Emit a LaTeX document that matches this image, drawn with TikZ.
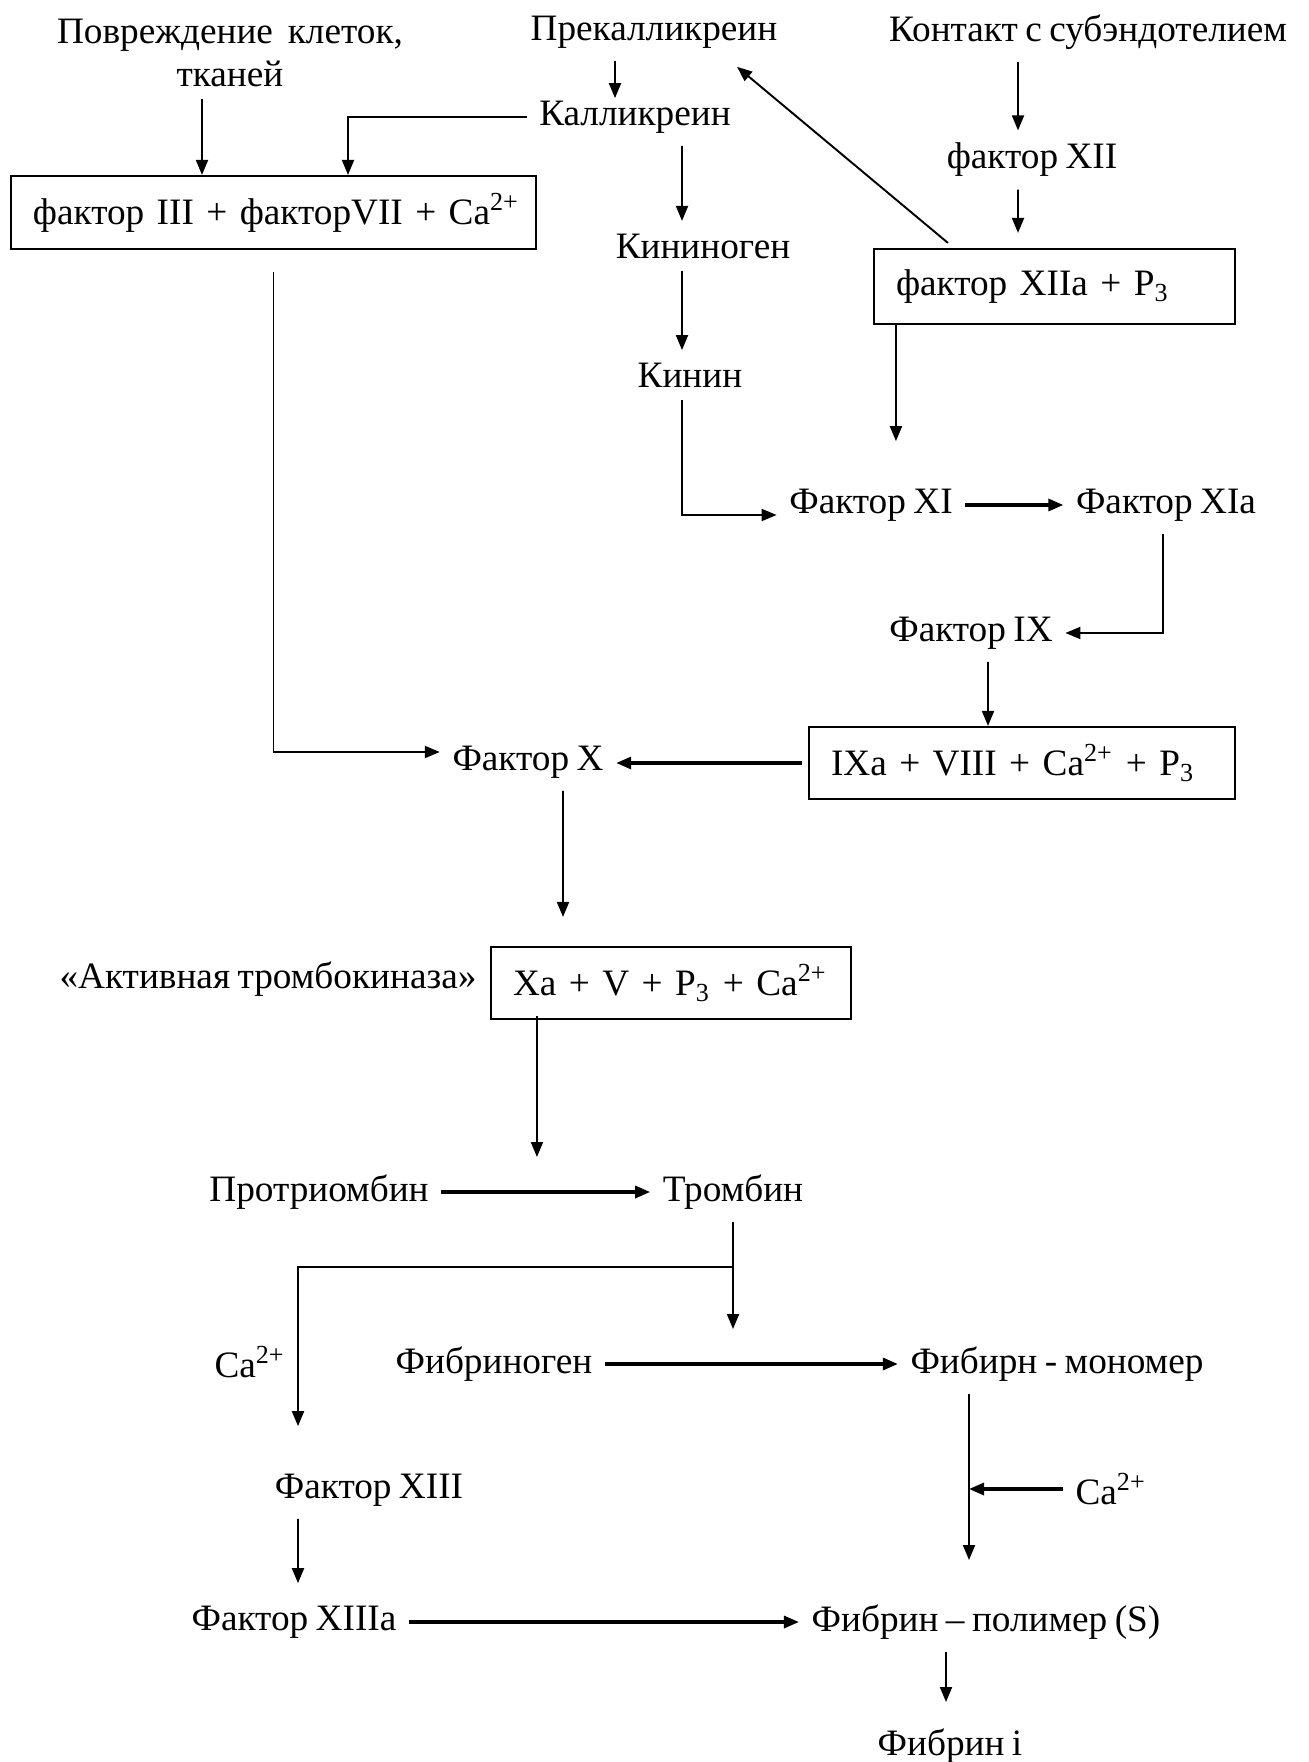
\documentclass[tikz,border=0pt]{standalone}
\usepackage{fontspec}
\setmainfont[WordSpace=0.8]{Liberation Serif}
\usepackage{tikz}
\usetikzlibrary{arrows.meta,positioning,calc}

\begin{document}
\begin{tikzpicture}[>={Triangle[length=1.5mm,width=1.2mm]}, font=\fontsize{10.6}{12}\selectfont]
\tikzstyle{lbl}=[inner sep=1.2mm, yshift=-0.4mm]
\tikzstyle{box}=[draw, line width=0.6pt, align=left, inner xsep=2.2mm, inner ysep=0pt]
\tikzstyle{arr}=[->, line width=0.55pt]
\tikzstyle{harr}=[->, line width=0.9pt]
\useasboundingbox (0,0) rectangle (13.09,-17.62);

% upper part: contact and tissue pathways
\node[lbl, align=center] (povr) at (2.30,-0.49) {Повреждение~ клеток,\\тканей};
\node[lbl] (prekal) at (6.54,-0.28) {Прекалликреин};
\node[lbl] (kontakt) at (10.88,-0.28) {Контакт с субэндотелием};
\node[lbl] (kalli) at (6.35,-1.13) {Калликреин};
\node[lbl] (f12) at (10.32,-1.56) {фактор XII};
\node[box, text width=4.81cm, minimum height=0.73cm] (box1) at (2.735,-2.125) {\mbox{фактор III + факторVII + Ca\textsuperscript{2+}}};
\node[box, text width=3.17cm, minimum height=0.75cm] (box12a) at (10.545,-2.865) {фактор XIIa + P\textsubscript{3}};
\node[lbl] (kinog) at (7.03,-2.42) {Кининоген};
\node[lbl] (kinin) at (6.90,-3.71) {Кинин};
\node[lbl] (f11) at (8.71,-5.01) {Фактор XI};
\node[lbl] (f11a) at (11.66,-5.01) {Фактор XIa};
\node[lbl] (f9) at (9.71,-6.29) {Фактор IX};
\node[box, text width=3.82cm, minimum height=0.72cm] (box9a) at (10.22,-7.63) {IXa + VIII + Ca\textsuperscript{2+} + P\textsubscript{3}};
\node[lbl] (f10) at (5.28,-7.58) {Фактор X};

% lower part
\node[box, text width=3.16cm, minimum height=0.72cm] (box10a) at (6.71,-9.83) {Xa + V + P\textsubscript{3} + Ca\textsuperscript{2+}};
\node[lbl] (akt) at (2.68,-9.75) {«Активная тромбокиназа»};
\node[lbl] (prothr) at (3.19,-11.88) {Протриомбин};
\node[lbl] (thromb) at (7.33,-11.88) {Тромбин};
\coordinate[below=4.5mm of thromb.south] (tsplit);
\node[lbl] (caL) at (2.50,-13.58) {Ca\textsuperscript{2+}};
\node[lbl] (fibgen) at (4.94,-13.60) {Фибриноген};
\node[lbl] (fibmono) at (10.57,-13.60) {Фибирн - мономер};
\node[lbl] (f13) at (3.69,-14.86) {Фактор XIII};
\node[lbl] (caR) at (11.11,-14.85) {Ca\textsuperscript{2+}};
\node[lbl] (f13a) at (2.94,-16.18) {Фактор XIIIa};
\node[lbl] (fibpoly) at (9.86,-16.18) {Фибрин – полимер (S)};
\node[lbl] (fibi) at (9.50,-17.42) {Фибрин i};

\draw[arr] ([xshift=-2.8mm]povr.south) -- ([xshift=-2.8mm]povr.south |- box1.north);
\draw[arr] (kalli.west) -| ([xshift=7.45mm]box1.north);
\draw[arr] ([xshift=-3.9mm]prekal.south) -- ($(prekal.south |- kalli.north)+(-0.39,-0.1)$);
\draw[arr] ([xshift=-1.4mm]f12.north |- kontakt.south) -- ([xshift=-1.4mm]f12.north);
\draw[arr] ([xshift=-1.4mm]f12.south) -- ($(f12.south |- box12a.north)+(-0.14,0.15)$);
\draw[arr] ($(box12a.north west)+(0.75,0.05)$) -- ($(prekal.south east)+(-0.53,-0.06)$);
\draw[arr] ([xshift=4.7mm]kalli.south) -- ($(kalli.south |- kinog.north)+(0.47,0)$);
\draw[arr] ([xshift=-2.1mm]kinog.south) -- ($(kinog.south |- kinin.north)+(-0.21,0)$);
\draw[arr] ([xshift=-0.8mm]kinin.south) |- ([yshift=-1mm]f11.west);
\draw[arr] ($(box12a.south west)+(0.23,0)$) -- ($(box12a.south west |- f11.north)+(0.23,0.35)$);
\draw[harr] (f11) -- (f11a);
\draw[arr] ([xshift=-0.3mm]f11a.south) |- (f9.east);
\draw[arr] ([xshift=1.7mm]f9.south) -- ($(f9.south |- box9a.north)+(0.17,0)$);
\draw[harr] ([xshift=-0.6mm]box9a.west) -- (box9a.west -| f10.east);
\draw[arr] ([yshift=-2.2mm]box1.south) |- ([yshift=1mm]f10.west);
\draw[arr] ([xshift=3.5mm]f10.south) -- ($(f10.south |- box10a.north)+(0.35,0.29)$);
\draw[arr] ($(box10a.south west)+(0.47,0.04)$) -- ($(box10a.south west |- thromb.north)+(0.47,0.05)$);
\draw[harr] (prothr) -- (thromb);
\draw[arr] (thromb.south) -- ($(thromb.south |- fibgen.north)+(0,0.05)$);
\draw[arr] (tsplit) -| ($(f13.north)+(-0.71,0.35)$);
\draw[harr] (fibgen) -- (fibmono);
\draw[arr] ($(fibmono.south -| fibpoly.north)+(-0.17,0)$) -- ($(fibpoly.north)+(-0.17,0.32)$);
\draw[harr] (caR.west) -- ($(caR.west -| fibpoly.north)+(-0.17,0)$);
\draw[arr] ([xshift=-7.1mm]f13.south) -- ($(f13.south |- f13a.north)+(-0.71,0.1)$);
\draw[harr] (f13a) -- (fibpoly);
\draw[arr] ([xshift=-4mm]fibpoly.south) -- ($(fibpoly.south |- fibi.north)+(-0.4,0.14)$);
\end{tikzpicture}
\end{document}
